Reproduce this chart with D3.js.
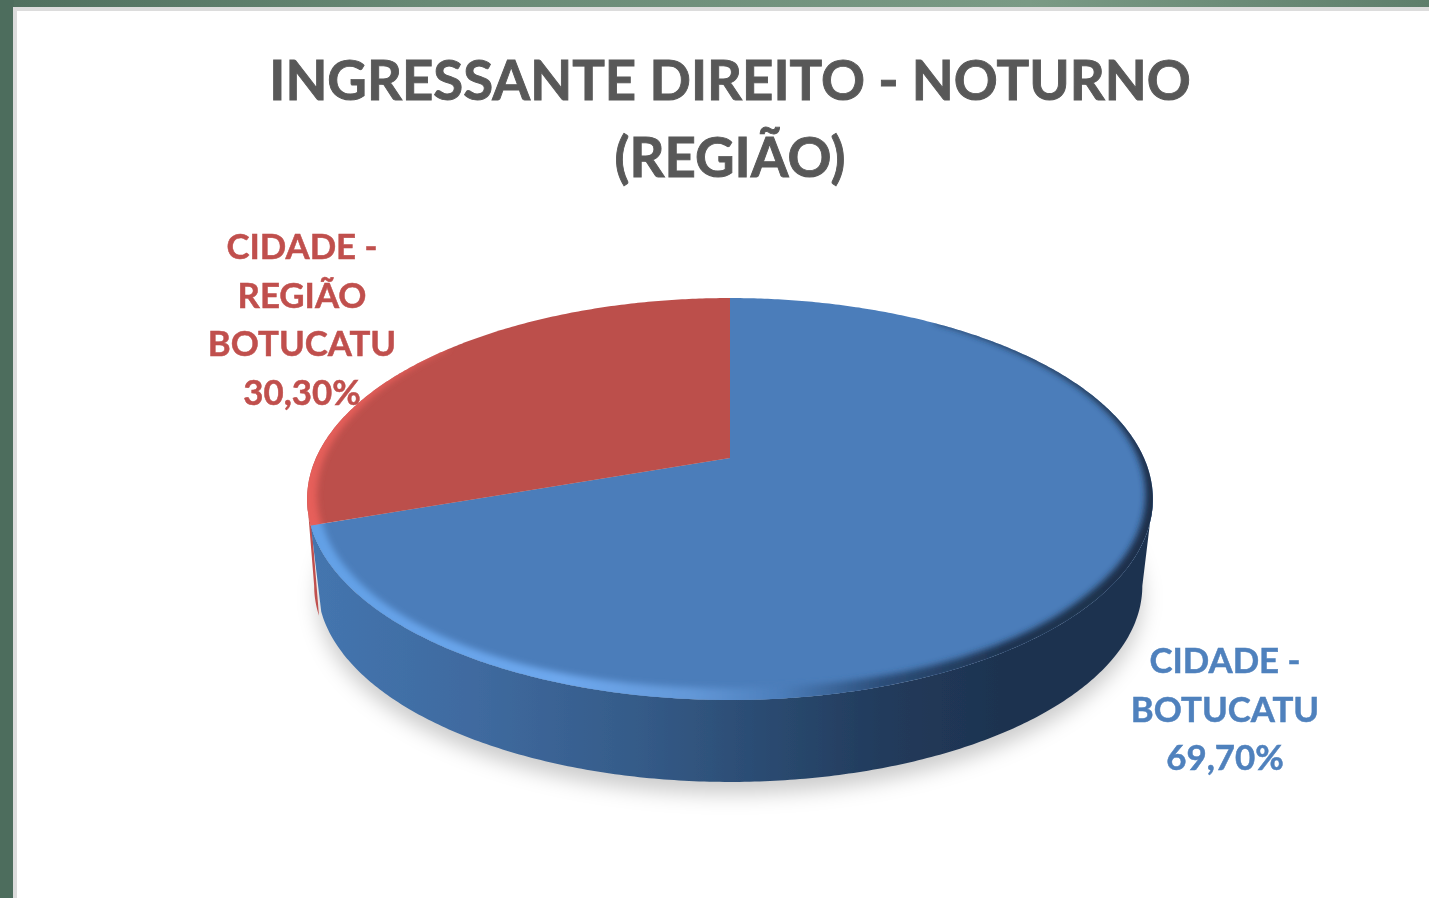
<!DOCTYPE html>
<html>
<head>
<meta charset="utf-8">
<script src="https://cdn.jsdelivr.net/npm/d3@7"></script>
<style>
html,body{margin:0;padding:0;background:#fff;overflow:hidden}
svg{display:block}
text{font-family:Lato,"Open Sans",sans-serif;font-weight:700;text-anchor:middle}
</style>
</head>
<body>
<svg id="c" width="1429" height="898"></svg>
<script>
const categories = ["CIDADE - BOTUCATU", "CIDADE - REGIÃO BOTUCATU"];
const values = [69.70, 30.30];
const valueLabels = ["69,70%", "30,30%"];
const labelLines = [["CIDADE -", "BOTUCATU"], ["CIDADE -", "REGIÃO", "BOTUCATU"]];
const titleLines = ["INGRESSANTE DIREITO - NOTURNO", "(REGIÃO)"];
const topColors = ["#4b7dba", "#bc4f4c"];
const textColors = ["#4f81bd", "#c0504d"];

const svg = d3.select("#c");
const defs = svg.append("defs");
const W = 1429, H = 898;

// perspective disc: angle (radians, clockwise from 12 o'clock) -> screen
const cx = 730, apexY = 458, A = 414, h = 192.6, p = 0.204;
const depth = 87, midY = 499, bottomScale = 0.975;
function proj(t) {
  const u = Math.sin(t), v = Math.cos(t), w = 1 + p * v;
  return [cx + A * u / w, apexY - h * v / w];
}
function projBottom(t) {
  const q = proj(t);
  return [cx + (q[0] - cx) * bottomScale, midY + (q[1] - midY) * bottomScale + depth];
}
function arcPts(a, b, f) {
  const n = Math.max(2, Math.ceil(Math.abs(b - a) / 0.01));
  return d3.range(n + 1).map(i => f(a + (b - a) * i / n));
}
const line = d3.line();
const deg = d => d * Math.PI / 180;
const sideRight = Math.PI - Math.asin(Math.sqrt(1 - p * p));   // silhouette tangent, right
const sideLeft = 2 * Math.PI - sideRight;                      // silhouette tangent, left

const pie = d3.pie().sort(null).startAngle(0).endAngle(2 * Math.PI);
const arcs = pie(values);
const split = arcs[0].endAngle;

// background
const bg = defs.append("linearGradient").attr("id", "bg").attr("x1", 0).attr("x2", 1).attr("y1", 0).attr("y2", 0);
[[0, "#4f6f5e"], [0.3, "#688975"], [0.72, "#7a9a85"], [1, "#5e7e6b"]].forEach(s => bg.append("stop").attr("offset", s[0]).attr("stop-color", s[1]));
svg.append("rect").attr("width", W).attr("height", H).attr("fill", "url(#bg)");
svg.append("rect").attr("x", 0).attr("y", 0).attr("width", 14).attr("height", H).attr("fill", "#4d6d5d");
svg.append("rect").attr("x", 13).attr("y", 7).attr("width", W).attr("height", H).attr("fill", "#dcdcdc");
svg.append("rect").attr("x", 17).attr("y", 11).attr("width", W).attr("height", H).attr("fill", "#ffffff");

// filters
function blur(id, sd) {
  defs.append("filter").attr("id", id).attr("x", "-20%").attr("y", "-20%").attr("width", "140%").attr("height", "140%")
    .append("feGaussianBlur").attr("stdDeviation", sd);
}
blur("shadowBlur", 10);
blur("bevelBlur", 3);
blur("textBlur", 0.75);
blur("edgeBlur", 0.7);

// shadow
svg.append("path")
  .attr("d", line(arcPts(0, 2 * Math.PI, projBottom)) + "Z")
  .attr("transform", "translate(0,12)")
  .attr("fill", "#000").attr("fill-opacity", 0.2)
  .attr("filter", "url(#shadowBlur)");

// wall gradient
const wallG = defs.append("linearGradient").attr("id", "wall").attr("gradientUnits", "userSpaceOnUse")
  .attr("x1", 310).attr("x2", 1150).attr("y1", 0).attr("y2", 0);
[[0, "#4475af"], [0.2, "#3f6a9f"], [0.4, "#345a87"], [0.55, "#2a4a70"], [0.68, "#223b5c"], [0.82, "#1e3350"], [1, "#1e3350"]]
  .forEach(s => wallG.append("stop").attr("offset", s[0]).attr("stop-color", s[1]));

function wallPath(a, b, dx) {
  const bottom = arcPts(b, a, projBottom).map(q => [q[0] + (dx || 0), q[1]]);
  return line(arcPts(a, b, proj).concat(bottom)) + "Z";
}
const pieBody = svg.append("g").attr("filter", "url(#edgeBlur)");
pieBody.append("path").attr("d", wallPath(split - 0.02, sideLeft, -3.5)).attr("fill", "#c0504d");
pieBody.append("path").attr("d", wallPath(sideRight, split)).attr("fill", "url(#wall)");

// top faces
function slicePath(d) {
  return line([[cx, apexY]].concat(arcPts(d.startAngle, d.endAngle, proj))) + "Z";
}
arcs.forEach((d, i) => {
  defs.append("clipPath").attr("id", "clip" + i).append("path").attr("d", slicePath(d));
});
pieBody.selectAll("path.top").data(arcs).enter().append("path")
  .attr("class", "top").attr("d", slicePath)
  .attr("fill", (d, i) => topColors[i]);

// bevel on the rim, a band that tapers towards the back of the disc
const bevelG = defs.append("linearGradient").attr("id", "bevel").attr("gradientUnits", "userSpaceOnUse")
  .attr("x1", 310).attr("x2", 1153).attr("y1", 0).attr("y2", 0);
[[0, "#62a0e6"], [0.3, "#6ea8ee"], [0.45, "#6398d8"], [0.56, "#4b7dba"], [0.68, "#2b4d78"], [0.82, "#1e3350"], [1, "#1b2e48"]]
  .forEach(s => bevelG.append("stop").attr("offset", s[0]).attr("stop-color", s[1]));

function bandPath(a, b, inset) {
  const outer = arcPts(a, b, proj);
  const n = outer.length - 1;
  const inner = outer.map((q, i) => {
    const dx = q[0] - cx, dy = q[1] - midY, len = Math.hypot(dx, dy);
    const w = inset(a + (b - a) * i / n);
    return [q[0] - dx / len * w, q[1] - dy / len * w];
  }).reverse();
  const out = outer.map(q => {
    const dx = q[0] - cx, dy = q[1] - midY, len = Math.hypot(dx, dy);
    return [q[0] + dx / len * 6, q[1] + dy / len * 6];
  });
  return line(out.concat(inner)) + "Z";
}
const blueInset = d3.scaleLinear().domain([deg(35), deg(80), deg(130), deg(360)]).range([0, 4, 12, 12]).clamp(true);
const redInset = d3.scaleLinear().domain([split, deg(285), deg(310)]).range([11, 6, 0]).clamp(true);

svg.append("g").attr("clip-path", "url(#clip0)")
  .append("path").attr("d", bandPath(deg(35), split + 0.05, blueInset))
  .attr("fill", "url(#bevel)").attr("filter", "url(#bevelBlur)");
svg.append("g").attr("clip-path", "url(#clip1)")
  .append("path").attr("d", bandPath(split - 0.05, deg(310), redInset))
  .attr("fill", "#e65f5a").attr("filter", "url(#bevelBlur)");

// text
const textLayer = svg.append("g").attr("filter", "url(#textBlur)");
const titleY = d3.scaleOrdinal().domain(titleLines).range([100, 177]);
textLayer.selectAll("text.title").data(titleLines).enter().append("text")
  .attr("class", "title").attr("x", cx).attr("y", d => titleY(d))
  .attr("font-size", 54.5).attr("fill", "#595959")
  .attr("stroke", "#595959").attr("stroke-width", 0.9).text(d => d);

const labelPos = [{x: 1225, y: 673}, {x: 302, y: 259}];
const lineGap = 48.7;
arcs.forEach((d, i) => {
  const lines = labelLines[i].concat([valueLabels[i]]);
  textLayer.selectAll("text.l" + i).data(lines).enter().append("text")
    .attr("class", "l" + i).attr("x", labelPos[i].x)
    .attr("y", (t, j) => labelPos[i].y + j * lineGap)
    .attr("font-size", 34.8).attr("fill", textColors[i])
    .attr("stroke", textColors[i]).attr("stroke-width", 0.5).text(t => t);
});
</script>
</body>
</html>
